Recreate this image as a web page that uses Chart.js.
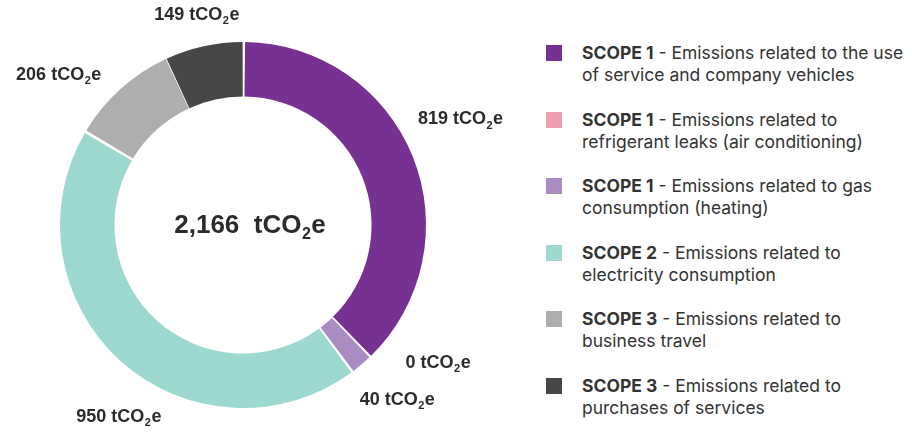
<!DOCTYPE html>
<html>
<head>
<meta charset="utf-8">
<script src="https://cdn.jsdelivr.net/npm/chart.js@4/dist/chart.umd.min.js"></script>
<style>
  html, body { margin: 0; padding: 0; background: #fff; }
  #wrap { position: relative; width: 912px; height: 432px; overflow: hidden; }
  #chartBox { position: absolute; left: 0; top: 0; width: 540px; height: 432px; }
  #legend { position: absolute; left: 546px; top: 42px; width: 366px; font-family: Inter, "Noto Sans", sans-serif; font-size: 17.5px; color: #333; }
  .item { position: relative; padding-left: 36px; width: 330px; height: 66.6px; line-height: 22px; }
  .item .sw { position: absolute; left: 0; top: 3px; width: 16px; height: 16px; }
  .item b { font-weight: 700; }
</style>
</head>
<body>
<div id="wrap">
  <div id="chartBox"><canvas id="myChart" width="540" height="432"></canvas></div>
  <div id="legend"></div>
</div>
<script>
// Dữ liệu phát thải (tCO2e)
const scopes = ['SCOPE 1', 'SCOPE 1', 'SCOPE 1', 'SCOPE 2', 'SCOPE 3', 'SCOPE 3'];
const descriptions = [
  'Emissions related to the use of service and company vehicles',
  'Emissions related to refrigerant leaks (air conditioning)',
  'Emissions related to gas consumption (heating)',
  'Emissions related to electricity consumption',
  'Emissions related to business travel',
  'Emissions related to purchases of services'
];
const emissions = [819, 0, 40, 950, 206, 149];
const totalEmissions = 2166;
const colors = ['#773192', '#ee9dac', '#ab8bc4', '#9ed9d1', '#aeaeaf', '#474749'];

// small angle nudges (deg) so labels don't collide, like the original layout
const labelNudge = [-4, -11, -1, -9, -9, 0];

function drawCO2(ctx, prefix, x, y, size) {
  const big = 'bold ' + size + 'px "Liberation Sans", Arial, sans-serif';
  const small = 'bold ' + Math.round(size * 0.6) + 'px "Liberation Sans", Arial, sans-serif';
  ctx.font = big;
  const w1 = ctx.measureText(prefix).width;
  const we = ctx.measureText('e').width;
  ctx.font = small;
  const w2 = ctx.measureText('2').width;
  const total = w1 + w2 + we + 1;
  const sx = x - total / 2;
  ctx.textBaseline = 'middle';
  ctx.textAlign = 'left';
  ctx.fillStyle = '#2b2b2b';
  ctx.font = big;
  ctx.fillText(prefix, sx, y);
  ctx.font = small;
  ctx.fillText('2', sx + w1 + 0.5, y + size * 0.34);
  ctx.font = big;
  ctx.fillText('e', sx + w1 + w2 + 1, y);
}

const sliceLabels = {
  id: 'sliceLabels',
  afterDraw(chart) {
    const ctx = chart.ctx;
    const meta = chart.getDatasetMeta(0);
    ctx.save();
    meta.data.forEach((arc, i) => {
      const mid = (arc.startAngle + arc.endAngle) / 2 + labelNudge[i] * Math.PI / 180;
      const halfW = 44;
      const r = arc.outerRadius + 18 + halfW * Math.abs(Math.cos(mid)) + 6 * Math.abs(Math.sin(mid));
      const x = arc.x + Math.cos(mid) * r;
      const y = arc.y + Math.sin(mid) * r;
      drawCO2(ctx, emissions[i] + ' tCO', x, y, 18);
    });
    // tổng ở giữa
    const a = meta.data[0];
    drawCO2(ctx, totalEmissions.toLocaleString('en-US') + '  tCO', a.x + 7, a.y + 1, 26);
    ctx.restore();
  }
};

var ctx = document.getElementById('myChart').getContext('2d');
var myChart = new Chart(ctx, {
  type: 'doughnut',
  data: {
    labels: descriptions,
    datasets: [{
      data: emissions,
      backgroundColor: colors,
      borderWidth: 0,
      spacing: 3
    }]
  },
  options: {
    responsive: false,
    animation: false,
    cutout: '70%',
    layout: { padding: { left: 60, right: 114, top: 42, bottom: 24 } },
    plugins: {
      legend: { display: false },
      tooltip: { enabled: false }
    }
  },
  plugins: [sliceLabels]
});

// legend HTML
const legendEl = document.getElementById('legend');
scopes.forEach((s, i) => {
  const div = document.createElement('div');
  div.className = 'item';
  div.innerHTML = '<span class="sw" style="background:' + colors[i] + '"></span><b>' + s + '</b> - ' + descriptions[i];
  legendEl.appendChild(div);
});
</script>
</body>
</html>
